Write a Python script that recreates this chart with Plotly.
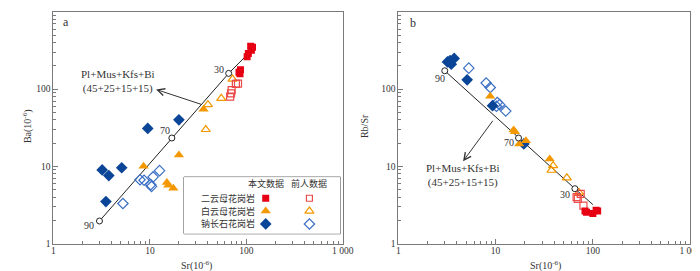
import math
import plotly.graph_objects as go

# ---------------- data ----------------
# Panel a : Sr (ppm) vs Ba (ppm)
a_sr_tmg_this = [111, 116, 113, 105, 102, 87, 84, 86]
a_ba_tmg_this = [360, 350, 320, 290, 262, 178, 165, 158]
a_sr_tmg_prev = [78, 82, 70.5, 69.5, 68]
a_ba_tmg_prev = [117, 118, 97, 88, 80]
a_sr_mg_this = [36, 8.6, 20, 15, 15.5, 17.5]
a_ba_mg_this = [55, 10, 14, 6.2, 5.7, 5.2]
a_sr_mg_prev = [40, 55, 38, 72]
a_ba_mg_prev = [63, 76, 30, 135]
a_sr_ab_this = [9.5, 20, 3.2, 3.75, 5.1, 3.5]
a_ba_ab_this = [31, 40, 9.0, 7.6, 9.6, 3.5]
a_sr_ab_prev = [5.25, 7.9, 8.7, 10.8, 10.2, 10.4, 12.6]
a_ba_ab_prev = [3.3, 6.7, 6.6, 7.3, 5.8, 5.5, 8.8]
a_line_sr = [3, 16.9, 65.6, 100]
a_line_ba = [1.96, 23.3, 160, 272]
a_node_sr = [3, 16.9, 65.6]
a_node_ba = [1.96, 23.3, 160]

# Panel b : Sr (ppm) vs Rb/Sr
b_sr_tmg_this = [83, 100, 108, 112, 86]
b_rs_tmg_this = [2.65, 2.45, 2.7, 2.65, 2.55]
b_sr_tmg_prev = [68, 70, 75, 80]
b_rs_tmg_prev = [4.0, 3.8, 4.4, 3.1]
b_sr_mg_this = [8.8, 15.3, 15.8, 17.5, 20.5, 36]
b_rs_mg_this = [81, 29.6, 28, 19.5, 21.5, 12.5]
b_sr_mg_prev = [39, 37.5, 54, 72]
b_rs_mg_prev = [10.2, 8.9, 7.1, 4.6]
b_sr_ab_this = [3.2, 3.5, 3.75, 3.4, 5.1, 9.3, 19.5]
b_rs_ab_this = [225, 210, 250, 235, 132, 61, 19.5]
b_sr_ab_prev = [5.3, 8.0, 8.8, 10.4, 11, 10.2, 12.7]
b_rs_ab_prev = [187, 120, 105, 67, 63, 60, 52]
b_line_sr = [3, 17.2, 65.3, 100]
b_line_rs = [173, 23.3, 5.14, 3.2]
b_node_sr = [3, 17.2, 65.3]
b_node_rs = [173, 23.3, 5.14]

node_labels = ["90", "70", "30"]
tick_vals = [1, 10, 100, 1000]
tick_text = ["1", "10", "100", "1 000"]
rock_types = ["二云母花岗岩", "白云母花岗岩", "钠长石花岗岩"]
sources = ["本文数据", "前人数据"]

# ---------------- styles ----------------
RED = "#e60012"
RED_O = "#ec4a4a"
ORG = "#f39800"
BLU = "#0a4597"
BLU_O = "#3a6fc4"
SERIF = "Liberation Serif, Times New Roman, serif"
CJK = "Noto Sans CJK SC"
AX = "#7a7a7a"
TXT = "#333333"

W, H = 700, 271


def px(x):
    return x / W


def py(y):
    return (H - y) / H


fig = go.Figure()


def pts(x, y, xa, ya, symbol, color, size, filled):
    fig.add_trace(go.Scatter(
        x=x, y=y, xaxis=xa, yaxis=ya, mode="markers", showlegend=False,
        marker=dict(symbol=symbol if filled else symbol + "-open", size=size,
                    color=color, line=dict(color=color, width=1.2 if not filled else 0)),
        hoverinfo="x+y"))


for xa, ya, lx, ly, nx, ny, sets in [
    ("x", "y", a_line_sr, a_line_ba, a_node_sr, a_node_ba,
     [(a_sr_ab_prev, a_ba_ab_prev, "diamond", BLU_O, 8, False),
      (a_sr_ab_this, a_ba_ab_this, "diamond", BLU, 9, True),
      (a_sr_mg_prev, a_ba_mg_prev, "triangle-up", ORG, 8, False),
      (a_sr_mg_this, a_ba_mg_this, "triangle-up", ORG, 9, True),
      (a_sr_tmg_prev, a_ba_tmg_prev, "square", RED_O, 7, False),
      (a_sr_tmg_this, a_ba_tmg_this, "square", RED, 7, True)]),
    ("x2", "y2", b_line_sr, b_line_rs, b_node_sr, b_node_rs,
     [(b_sr_ab_prev, b_rs_ab_prev, "diamond", BLU_O, 8, False),
      (b_sr_ab_this, b_rs_ab_this, "diamond", BLU, 9, True),
      (b_sr_mg_prev, b_rs_mg_prev, "triangle-up", ORG, 8, False),
      (b_sr_mg_this, b_rs_mg_this, "triangle-up", ORG, 9, True),
      (b_sr_tmg_prev, b_rs_tmg_prev, "square", RED_O, 7, False),
      (b_sr_tmg_this, b_rs_tmg_this, "square", RED, 7, True)]),
]:
    fig.add_trace(go.Scatter(x=lx, y=ly, xaxis=xa, yaxis=ya, mode="lines",
                             line=dict(color="#222", width=1), showlegend=False,
                             hoverinfo="skip"))
    for s in sets:
        pts(s[0], s[1], xa, ya, s[2], s[3], s[4], s[5])
    fig.add_trace(go.Scatter(x=nx, y=ny, xaxis=xa, yaxis=ya, mode="markers",
                             marker=dict(symbol="circle", size=6, color="white",
                                         line=dict(color="#222", width=1)),
                             showlegend=False, hoverinfo="skip"))

# ---------------- legend (panel a) on its own small category axes ----------------
leg_x0, leg_x1, leg_y0, leg_y1 = 177.3, 336.7, 172.3, 230
legend_syms = [("square", RED, RED_O, 7), ("triangle-up", ORG, ORG, 9), ("diamond", BLU, BLU_O, 9)]
for rt, (sym, cf, co, sz) in zip(rock_types, legend_syms):
    fig.add_trace(go.Scatter(x=[sources[0]], y=[rt], xaxis="x3", yaxis="y3", mode="markers",
                             marker=dict(symbol=sym, size=sz, color=cf), showlegend=False,
                             hoverinfo="skip"))
    fig.add_trace(go.Scatter(x=[sources[1]], y=[rt], xaxis="x3", yaxis="y3", mode="markers",
                             marker=dict(symbol=sym + "-open", size=sz - 1, color=co,
                                         line=dict(color=co, width=1.2)),
                             showlegend=False, hoverinfo="skip"))

annotations = []
for s in sources:
    annotations.append(dict(x=s, y="header", xref="x3", yref="y3", text=s, showarrow=False,
                            yshift=2, font=dict(family=CJK, size=9, color=TXT)))
for rt in rock_types:
    annotations.append(dict(x=sources[0], y=rt, xref="x3", yref="y3", text=rt, showarrow=False,
                            xanchor="right", xshift=-9, font=dict(family=CJK, size=9, color=TXT)))

shapes = [dict(type="rect", xref="paper", yref="paper", x0=px(leg_x0), x1=px(leg_x1),
               y0=py(leg_y1), y1=py(leg_y0), line=dict(color="#444", width=1),
               fillcolor="white", layer="below")]

# ---------------- text labels ----------------
def note(x, y, text, size=10, xanchor="center"):
    annotations.append(dict(x=px(x), y=py(y), xref="paper", yref="paper", text=text,
                            showarrow=False, xanchor=xanchor, yanchor="middle",
                            font=dict(family=SERIF, size=size, color=TXT)))


note(57, 14, "a", 12)
note(411, 15, "b", 12)
for lab, (x, y) in zip(node_labels, [(81, 221.7), (158.3, 125), (213.3, 62.3)]):
    note(x, y, lab)
for lab, (x, y) in zip(node_labels, [(438.3, 71.7), (508.3, 136.7), (566, 190)]):
    note(x, y, lab)
note(110, 74.5, "Pl+Mus+Kfs+Bi<br>(45+25+15+15)", 11)
note(461.7, 171, "Pl+Mus+Kfs+Bi<br>(45+25+15+15)", 11)

# axis titles
note(190, 262, "Sr(10<sup>-6</sup>)", 10)
note(546, 262, "Sr(10<sup>-6</sup>)", 10)
annotations.append(dict(x=px(9), y=py(120), xref="paper", yref="paper", text="Ba(10<sup>-6</sup>)",
                        textangle=-90, showarrow=False, font=dict(family=SERIF, size=10, color=TXT)))
annotations.append(dict(x=px(362), y=py(120), xref="paper", yref="paper", text="Rb/Sr",
                        textangle=-90, showarrow=False, font=dict(family=SERIF, size=10, color=TXT)))

# arrows
annotations.append(dict(x=math.log10(11.6), y=math.log10(99), ax=math.log10(35.1), ay=math.log10(62.8),
                        xref="x", yref="y", axref="x", ayref="y", text="", showarrow=True,
                        arrowhead=5, arrowsize=1.4, arrowwidth=1, arrowcolor="#333"))
annotations.append(dict(x=math.log10(4.63), y=math.log10(11.65), ax=math.log10(9.6), ay=math.log10(40.7),
                        xref="x2", yref="y2", axref="x2", ayref="y2", text="", showarrow=True,
                        arrowhead=5, arrowsize=1.4, arrowwidth=1, arrowcolor="#333"))

minor_vals = [m * 10 ** e for e in range(3) for m in range(2, 10)]
ydom = [py(240), py(4)]


def logaxis(dom, anchor, standoff):
    return dict(type="log", range=[0, 3], domain=dom, anchor=anchor,
                tickmode="array", tickvals=tick_vals, ticktext=tick_text,
                ticks="inside", ticklen=5, tickwidth=1, tickcolor=AX,
                minor=dict(tickmode="array", tickvals=minor_vals, ticks="inside",
                           ticklen=3, tickcolor=AX, showgrid=False),
                showline=True, linecolor=AX, linewidth=1, mirror=True,
                showgrid=False, zeroline=False, ticklabelstandoff=standoff,
                tickfont=dict(family=SERIF, size=9.5, color=TXT))


fig.update_layout(
    width=W, height=H, margin=dict(l=0, r=0, t=0, b=0),
    plot_bgcolor="white", paper_bgcolor="white",
    xaxis=logaxis([px(44.3), px(339)], "y", -2),
    yaxis=logaxis(ydom, "x", 0),
    xaxis2=logaxis([px(395.7), px(693)], "y2", -2),
    yaxis2=logaxis(ydom, "x2", 0),
    xaxis3=dict(domain=[px(leg_x0), px(leg_x1)], anchor="y3", type="category",
                categoryorder="array", categoryarray=sources,
                range=[-1.87, 1.71], visible=False, fixedrange=True),
    yaxis3=dict(domain=[py(leg_y1), py(leg_y0)], anchor="x3", type="category",
                categoryorder="array", categoryarray=rock_types[::-1] + ["header"],
                range=[-0.76, 3.64], visible=False, fixedrange=True),
    annotations=annotations, shapes=shapes,
)

fig.write_html("out.html")
